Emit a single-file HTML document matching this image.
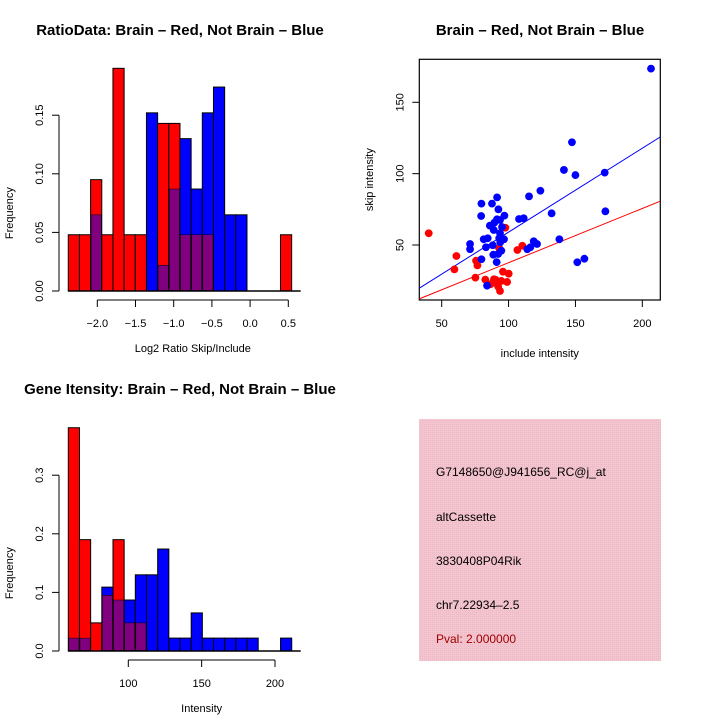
<!DOCTYPE html>
<html><head><meta charset="utf-8"><style>
body{margin:0;background:#fff}
svg{display:block;font-family:"Liberation Sans",Arial,sans-serif}
</style></head><body>
<svg id="c" width="720" height="720" viewBox="0 0 720 720" xmlns="http://www.w3.org/2000/svg">
<defs>
<pattern id="pk" width="2" height="2" patternUnits="userSpaceOnUse"><rect width="2" height="2" fill="#f4c4cf"/><rect width="1" height="1" fill="#e8b8c4"/></pattern>
</defs>
<text x="180" y="35" text-anchor="middle" font-size="15" font-weight="bold">RatioData: Brain – Red, Not Brain – Blue</text>
<text x="540" y="35" text-anchor="middle" font-size="15" font-weight="bold">Brain – Red, Not Brain – Blue</text>
<text x="180" y="394" text-anchor="middle" font-size="15" font-weight="bold">Gene Itensity: Brain – Red, Not Brain – Blue</text>
<g id="g1"></g>
<g id="g2"></g>
<g id="g3"></g>
<g>
<rect x="419" y="419" width="242" height="242" fill="url(#pk)"/>
<text x="436" y="476" font-size="12">G7148650@J941656_RC@j_at</text>
<text x="436" y="521" font-size="12">altCassette</text>
<text x="436" y="565" font-size="12">3830408P04Rik</text>
<text x="436" y="609" font-size="12">chr7.22934–2.5</text>
<text x="436" y="643" font-size="12" fill="#a00000">Pval: 2.000000</text>
</g>
</svg>
<script>
// Ratio histogram data
const ratioBinStart = -2.38, ratioBinWidth = 0.1462;
const ratioRed  = [0.048,0.048,0.095,0.048,0.19,0.048,0.048,0,0.143,0.143,0.048,0.048,0.048,0,0,0,0,0,0,0.048];
const ratioBlue = [0,0,0.065,0,0,0,0,0.152,0.022,0.087,0.13,0.087,0.152,0.174,0.065,0.065,0,0,0,0];
const ratioXTicks = [-2.0,-1.5,-1.0,-0.5,0.0,0.5];
const ratioYTicks = [0,0.05,0.10,0.15];
// Intensity histogram data
const intBinStart = 59.1, intBinWidth = 7.615;
const intRed  = [0.381,0.19,0.048,0.095,0.19,0.048,0.048,0,0,0,0,0,0,0,0,0,0,0,0,0];
const intBlue = [0.022,0.022,0,0.109,0.087,0.087,0.13,0.13,0.174,0.022,0.022,0.065,0.022,0.022,0.022,0.022,0.022,0,0,0.022];
const intXTicks = [100,150,200];
const intYTicks = [0,0.1,0.2,0.3];
// Scatter data
const blueInc  = [206.5,147.4,141.4,150,171.9,172.4,123.8,115.3,132.2,138,151.4,156.7,111.3,107.8,118.8,121.3,116.3,114,79.7,87.6,91.4,92.4,79.5,96.9,91.4,93.6,89.4,86,95.1,88.9,93.6,96.6,93,93.8,81.4,84.4,83.1,88.2,71.2,71.2,94.6,92.2,88.6,79.7,91.1,83.9];
const blueSkip = [173.6,122,102.6,99,100.7,73.6,88,84.1,72.2,54,37.9,40.4,68.7,68.2,52.6,50.7,48.4,47,79,79,83.4,75,70.3,70.6,68,67.5,65.7,63.6,62.6,60.5,58.2,54,54.7,51.9,54,54.7,48.4,49.8,50.7,47,46,43.7,43.2,40,38,21.5];
const redInc  = [40.3,61,59.5,75.7,76.7,75.2,82.6,89.1,88.2,94.6,95.8,100.1,98.9,92.2,93.6,97.6,92.9,106.6,110.3,86.5,90.5];
const redSkip = [58.2,42.3,32.9,39,35.7,27.1,25.7,26,23.6,24.8,31.3,29.9,24.1,20.8,17.8,62.1,47.9,46.5,49.5,22.5,25.5];
const fitSlope = [0.588,0.38];      // blue, red
const fitIntercept = [0.2,-0.4];
const scXTicks = [50,100,150,200];
const scYTicks = [50,100,150];

const NS="http://www.w3.org/2000/svg";
function mk(p,t,a){const e=document.createElementNS(NS,t);for(const k in a)e.setAttribute(k,a[k]);p.appendChild(e);return e;}

function hist(g,binStart,bw,red,blue,xs,ys,x0v,x0p,pxPerX,pxPerY,y0,xTicks,yTicks,xlab,fmtY,fmtX){
  const X=v=>x0p+(v-x0v)*pxPerX, Y=v=>y0-v*pxPerY;
  for(let i=0;i<red.length;i++){
    const l=X(binStart+i*bw), r=X(binStart+(i+1)*bw);
    const rv=red[i], bv=blue[i], hi=Math.max(rv,bv), lo=Math.min(rv,bv);
    if(hi>0){
      const top=mk(g,'rect',{x:l,y:Y(hi),width:r-l,height:Y(0)-Y(hi),fill:rv>=bv?'#ff0000':'#0000ff',stroke:'#000','stroke-width':1});
      
      
    }
    if(lo>0){
      const ov=mk(g,'rect',{x:l+0.5,y:Y(lo),width:r-l-1,height:Y(0)-Y(lo)-0.5,fill:'#800080',stroke:'#000','stroke-width':0.5});
      
      
    }
  }
  const bl=mk(g,'line',{x1:X(binStart),x2:X(binStart+red.length*bw)+9,y1:y0,y2:y0,stroke:'#000','stroke-width':1.5});
  
  
  const ax=y0+9;
  const xa=mk(g,'line',{x1:X(xTicks[0]),x2:X(xTicks[xTicks.length-1]),y1:ax,y2:ax,stroke:'#000'});
  
  
  xTicks.forEach(t=>{
    mk(g,'line',{x1:X(t),x2:X(t),y1:ax,y2:ax+7,stroke:'#000'});
    const tx=mk(g,'text',{x:X(t),y:ax+27,'text-anchor':'middle','font-size':11});
    tx.textContent=fmtX(t);
    
    
  });
  const xl=mk(g,'text',{x:(X(xTicks[0])+X(xTicks[xTicks.length-1]))/2,y:ax+52,'text-anchor':'middle','font-size':11});
  xl.textContent=xlab;
  
  
  const yx=59;
  const ya=mk(g,'line',{x1:yx,x2:yx,y1:Y(yTicks[0]),y2:Y(yTicks[yTicks.length-1]),stroke:'#000'});
  
  
  yTicks.forEach(t=>{
    mk(g,'line',{x1:yx-7,x2:yx,y1:Y(t),y2:Y(t),stroke:'#000'});
    const ty=mk(g,'text',{x:0,y:0,'text-anchor':'middle','font-size':11,transform:`translate(${yx-16},${Y(t)}) rotate(-90)`});
    ty.textContent=fmtY(t);
    
    
  });
  const yl=mk(g,'text',{x:0,y:0,'text-anchor':'middle','font-size':11,transform:`translate(13,${(Y(yTicks[0])+Y(yTicks[yTicks.length-1]))/2+10}) rotate(-90)`});
  yl.textContent='Frequency';
  
  
}
const g1=document.getElementById('g1'), g3=document.getElementById('g3');
hist(g1,ratioBinStart,ratioBinWidth,ratioRed,ratioBlue,0,0,-2.0,97.3,76.4,1172,291,ratioXTicks,ratioYTicks,'Log2 Ratio Skip/Include',t=>t.toFixed(2),t=>t.toFixed(1).replace('-','\u2212'));
hist(g3,intBinStart,intBinWidth,intRed,intBlue,0,0,100,128.3,1.467,586,651,intXTicks,intYTicks,'Intensity',t=>t.toFixed(1),t=>String(t));

const g2=document.getElementById('g2');
const SX=v=>441.7+(v-50)*1.3373, SY=v=>245-(v-50)*1.427;
const bx0=419.3,bx1=660.3,by0=59.3,by1=300;
const fr=mk(g2,'rect',{x:bx0,y:by0,width:bx1-bx0,height:by1-by0,fill:'none',stroke:'#000','stroke-width':1.2});


const clip=mk(g2,'clipPath',{id:'scclip'});mk(clip,'rect',{x:bx0,y:by0,width:bx1-bx0,height:by1-by0});
const pts=mk(g2,'g',{'clip-path':'url(#scclip)'});
const xmin=50+(bx0-441.7)/1.3373, xmax=50+(bx1-441.7)/1.3373;
['#0000ff','#ff0000'].forEach((col,k)=>{
  const ln=mk(pts,'line',{x1:SX(xmin),y1:SY(fitIntercept[k]+fitSlope[k]*xmin),x2:SX(xmax),y2:SY(fitIntercept[k]+fitSlope[k]*xmax),stroke:col,'stroke-width':1});
  
  
});
redInc.forEach((v,i)=>{
  const c=mk(pts,'circle',{cx:SX(v),cy:SY(redSkip[i]),r:3.9,fill:'#ff0000'});
  
  
});
blueInc.forEach((v,i)=>{
  const c=mk(pts,'circle',{cx:SX(v),cy:SY(blueSkip[i]),r:3.9,fill:'#0000ff'});
  
  
});
scXTicks.forEach(t=>{
  mk(g2,'line',{x1:SX(t),x2:SX(t),y1:by1,y2:by1+7,stroke:'#000'});
  const tx=mk(g2,'text',{x:SX(t),y:by1+27,'text-anchor':'middle','font-size':11});
  tx.textContent=t;
  
  
});
scYTicks.forEach(t=>{
  mk(g2,'line',{x1:bx0-7,x2:bx0,y1:SY(t),y2:SY(t),stroke:'#000'});
  const ty=mk(g2,'text',{x:0,y:0,'text-anchor':'middle','font-size':11,transform:`translate(${bx0-16},${SY(t)}) rotate(-90)`});
  ty.textContent=t;
  
  
});
const sxl=mk(g2,'text',{x:(bx0+bx1)/2,y:357,'text-anchor':'middle','font-size':11});
sxl.textContent='include intensity';


const syl=mk(g2,'text',{x:0,y:0,'text-anchor':'middle','font-size':11,transform:`translate(373,${(by0+by1)/2}) rotate(-90)`});
syl.textContent='skip intensity';


</script>
</body></html>
